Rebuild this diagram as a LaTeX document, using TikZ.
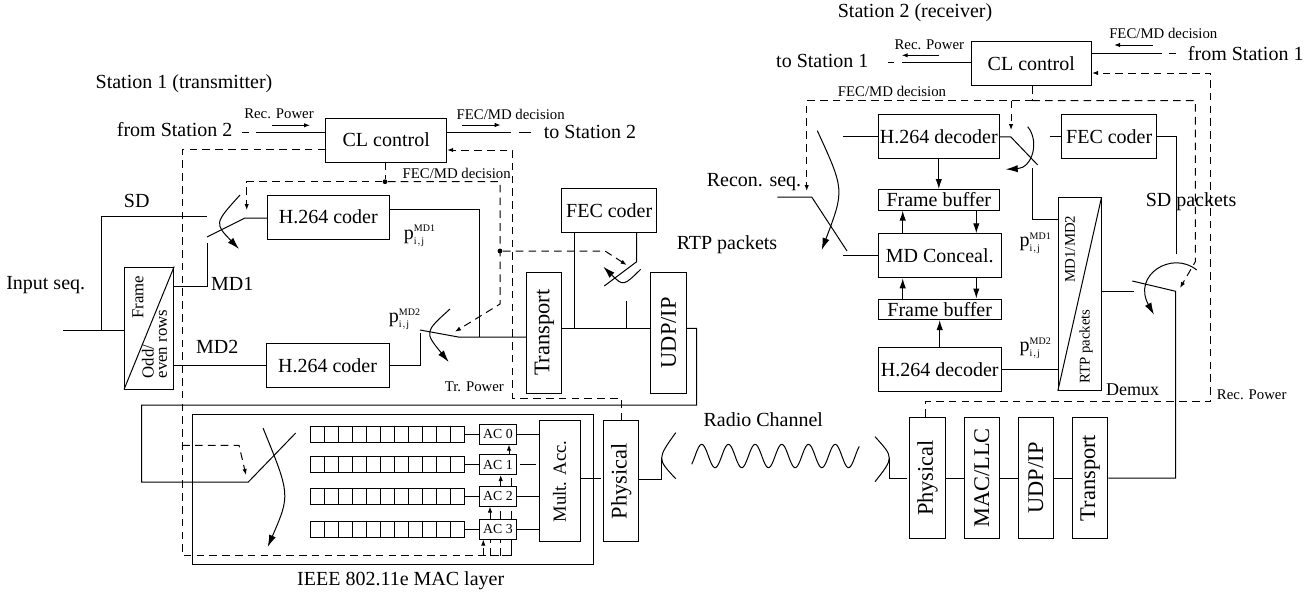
\documentclass[tikz,border=0pt]{standalone}
\usepackage{fontspec}
\setmainfont{Liberation Serif}
\usetikzlibrary{arrows.meta}
\newcommand{\pij}[1]{$\mathrm{p}^{\scriptscriptstyle\mathrm{#1}}_{\scriptscriptstyle\mathrm{i,j}}$}
\begin{document}
\begin{tikzpicture}[x=0.5pt, y=-0.5pt, line width=0.5pt, font=\fontsize{10}{12}\selectfont]
    \tikzstyle{block}=[draw, minimum height=22pt, inner sep=0pt]
    \tikzstyle{buffer}=[draw, minimum height=10.3pt, inner sep=0pt]
    \tikzstyle{layer}=[draw, rotate=90, minimum width=60.5pt, minimum height=17.6pt, inner sep=0pt, font=\fontsize{11.2}{13}\selectfont]
    \tikzstyle{acbox}=[draw, minimum width=18.7pt, minimum height=10pt, inner sep=0pt, font=\fontsize{6.9}{8}\selectfont]
    \tikzstyle{cell}=[draw, minimum width=7pt, minimum height=8pt, inner sep=0pt]
    \tikzstyle{note}=[font=\fontsize{7.4}{9}\selectfont]
    \tikzstyle{sidetxt}=[rotate=90, font=\fontsize{8.4}{10}\selectfont]
    \tikzstyle{dot}=[circle, fill, minimum size=2.4pt, inner sep=0pt]
    \tikzstyle{dsh}=[dash pattern=on 3.8pt off 2.6pt]
    \tikzstyle{sig}=[-{Latex[length=3pt,width=2.2pt]}]
    \tikzstyle{arr}=[-{Latex[length=5pt,width=3.2pt]}]
    \tikzstyle{swing}=[-{Latex[length=6pt,width=3.6pt]}]
    \useasboundingbox (0,0) rectangle (1310,594);

    \node (st1) at (184,84) {Station 1 (transmitter)};
    \node (st2) at (915,12.3) {Station 2 (receiver)};

    \node[block, minimum width=60.5pt] (cl1) at (386.2,140) {CL control};
    \node[block, minimum width=60.7pt] (h1) at (328.3,217) {H.264 coder};
    \node[block, minimum width=61.5pt] (h2) at (327.5,365.5) {H.264 coder};
    \node[block, minimum width=47.5pt] (fc1) at (609.2,210.3) {FEC coder};
    \node[draw, minimum width=24.6pt, minimum height=61pt, inner sep=0pt] (fr) at (149.1,328) {};
    \node[layer] (tr1) at (544.3,332.8) {Transport};
    \node[layer] (ud1) at (668.5,332.8) {UDP/IP};
    \node[layer] (ph1) at (621.3,481.4) {Physical};
    \node[layer, minimum height=20.5pt, font=\fontsize{9.3}{11}\selectfont] (mult) at (559.5,481.4) {Mult. Acc.};
    \node[draw, minimum width=200.2pt, minimum height=75pt, inner sep=0pt] (mac) at (392.8,489) {};

    \node[sidetxt] (frt) at (138,297) {Frame};
    \node[sidetxt, anchor=west] (odd) at (148,385.5) {Odd/};
    \node[sidetxt, anchor=west] (evn) at (163,385.5) {even rows};

    \foreach \i/\y in {0/434,1/464.5,2/496,3/529}{
        \node[acbox] (ac\i) at (498,\y) {AC \i};
        \foreach \k in {1,...,11}
            \node[cell] (q\i-\k) at ({303+14*\k},\y) {};
        \draw (q\i-11) -- (ac\i);
    }

    \node[block, minimum width=60.3pt] (cl2) at (1031.3,63.5) {CL control};
    \node[block, minimum width=60.5pt] (dh1) at (938.8,136.8) {H.264 decoder};
    \node[buffer, minimum width=60.5pt] (fb1) at (938.8,199.8) {Frame buffer};
    \node[block, minimum width=61.4pt] (con) at (939.7,255.8) {MD Conceal.};
    \node[buffer, minimum width=61.4pt] (fb2) at (939.7,309.3) {Frame buffer};
    \node[block, minimum width=61.4pt] (dh2) at (939.7,369.2) {H.264 decoder};
    \node[block, minimum width=47.5pt] (fc2) at (1109.2,136.8) {FEC coder};
    \node[draw, minimum width=21.35pt, minimum height=96.3pt, inner sep=0pt] (dm) at (1079.7,294) {};
    \node[layer] (ph2) at (927.5,478) {Physical};
    \node[layer] (ml2) at (981.7,478) {MAC/LLC};
    \node[layer] (ud2) at (1035.8,478) {UDP/IP};
    \node[layer] (tr2) at (1090.2,478) {Transport};

    \node[rotate=90, note] (mdt) at (1070,249) {MD1/MD2};
    \node[rotate=90, note] (rtt) at (1086,346.7) {RTP packets};

    \node[dot] (d1) at (385,181.7) {};
    \node[dot] (d2) at (500,251) {};

    \coordinate (in1) at (63,330);
    \coordinate (tap) at (101.7,330);
    \coordinate (sd1) at (207,216);
    \coordinate (bl1) at (207,237);
    \coordinate (md1) at (207,243);
    \coordinate (bl2) at (420,330);
    \coordinate (md2) at (420,333);
    \coordinate (bl3) at (604.3,286);
    \coordinate (st3) at (626.7,300.7);
    \coordinate (bl4) at (295.7,433);
    \coordinate (rx1) at (241.7,132.3);
    \coordinate (tx1) at (530.7,132.3);
    \coordinate (rx2) at (887.7,62.3);
    \coordinate (tx2) at (1176,53.3);
    \coordinate (out) at (777.3,197);
    \coordinate (bl5) at (847,251);
    \coordinate (w1) at (843.3,136.8);
    \coordinate (w2) at (843.3,255.8);
    \coordinate (bl6) at (1037.7,165);
    \coordinate (w3) at (1050,136.8);
    \coordinate (w4) at (1032.3,167.7);
    \coordinate (w5) at (1176,254.3);
    \coordinate (bl7) at (1132.3,281);
    \coordinate (w6) at (1134,291.3);
    \coordinate (t2) at (1032.3,100.7);

    \draw (fr.north east) -- (fr.south west);
    \draw (dm.north east) -- (dm.south west);

    \draw (in1) -- (fr.west |- in1);
    \draw (tap) -- (101.7,216) -- (sd1);
    \draw (bl1) -- (245,218) -- (h1.west |- 0,218);
    \draw (fr.east |- 0,286) -- (207,286) -- (md1);
    \draw (fr.east |- h2) -- (h2.west);
    \draw (h1.east |- 0,209.3) -- (479.3,209.3) -- (479.3,337);
    \draw (h2.east) -- (420,365.5) -- (md2);
    \draw (bl2) -- (458.3,337) -- (tr1.north |- 0,337);
    \draw (tr1.south |- 0,328.3) -- (ud1.north |- 0,328.3);
    \draw (st3) -- (626.7,328.3);
    \draw (fc1.south -| 574,0) -- (574,328.3);
    \draw (fc1.south -| 636.7,0) -- (636.7,261.7) -- (bl3);
    \draw (ud1.south |- 0,328.3) -- (696.7,328.3) -- (696.7,405) -- (141.7,405) -- (141.7,482) -- (248.3,482) -- (bl4);

    \draw (ac0) -- (ac0 -| mult.north);
    \draw ([xshift=1.2pt]ac1.east) -- ([xshift=-1.2pt]ac1 -| mult.north);
    \draw (ac2) -- (ac2 -| mult.north);
    \draw (ac3) -- (ac3 -| mult.north);
    \draw (mult.south |- 0,478.3) -- ([xshift=-1pt]ph1.north |- 0,478.3);

    \draw[dash pattern=on 3.8pt off 3.2pt on 100pt] (rx1) -- (cl1.west |- rx1);
    \draw[dash pattern=on 31.65pt off 4.15pt on 6.2pt] (cl1.east |- tx1) -- (tx1);
    \draw[dash pattern=on 3.15pt off 3.85pt on 100pt] (rx2) -- (cl2.west |- rx2);
    \draw[dash pattern=on 35pt off 3.3pt on 3.85pt] (cl2.east |- tx2) -- (tx2);

    \draw[dsh] (cl1.south -| d1) -- (d1);
    \draw[dsh, sig] (d1) -- (246.7,181.7) -- (246.7,210);
    \draw[dsh, sig] (d1) -- (500,181.7) -- (500,304) -- (455,331.7);
    \draw[dsh, sig] (d2) -- (605,251) -- (626.7,265);
    \draw[dsh, sig] (ph1.east -| 621,0) -- (621,398.3) -- (512.7,398.3) -- (512.7,150) -- (cl1.east |- 0,150);
    \draw[dsh] (cl1.west |- 0,149.7) -- (182.3,149.7) -- (182.3,555.7) -- (501.7,555.7);
    \draw (501.7,555.7) -- (511.7,555.7) -- (ac3.south -| 511.7,0);
    \draw[dsh, sig] (182.3,445.3) -- (239,445.3) -- (246,475);

    \draw[dsh, sig] (483.3,555.7) -- (ac3.south -| 483.3,0);
    \draw[dsh] (490,555.7) -- (ac3.south -| 490,0);
    \draw[dsh, sig] (ac3.north -| 490,0) -- (ac2.south -| 490,0);
    \draw[dsh] (500.7,555.7) -- (ac3.south -| 500.7,0);
    \draw[dsh] (ac3.north -| 500.7,0) -- (ac2.south -| 500.7,0);
    \draw[dsh, sig] (ac2.north -| 500.7,0) -- (ac1.south -| 500.7,0);
    \draw[dsh] (ac3.north -| 511,0) -- (ac2.south -| 511,0);
    \draw[dsh] (ac2.north -| 511,0) -- (ac1.south -| 511,0);
    \draw[dsh, sig] (ac1.north -| 509,0) -- (ac0.south -| 509,0);

    \draw[swing] (240,195) .. controls (214.4,223.3) .. (239,249);
    \draw[swing] (450,309) .. controls (424.4,332.1) .. (448.7,362);
    \draw[swing] (640.7,269.3) .. controls (623.3,286.3) .. (603.3,266.7);
    \draw[swing] (263,428) .. controls (290.3,494.8) .. (267.7,547);

    \draw (675.7,432.7) .. controls (657,458.8) .. (675.7,478.7);
    \draw (875,436.7) .. controls (894,457.6) .. (875,481.7);
    \draw (ph1.south |- 0,479) -- (661.7,479) -- (661.7,458);
    \draw ([xshift=-1pt]ph2.north |- 0,478) -- (889.3,478) -- (889.3,458);
    \draw plot[domain=691.7:859.3, samples=120, smooth] (\x,{456-11.7*cos((\x-701.7)*13.483)});

    \draw (ph2.south) -- (ml2.north);
    \draw (ml2.south) -- (ud2.north);
    \draw (ud2.south) -- (tr2.north);
    \draw (tr2.south) -- (1175.7,478) -- (1175.7,291.3) -- (bl7);
    \draw (dm.east |- w6) -- (w6);
    \draw (w5) -- (1176,136.8) -- (fc2.east);
    \draw (fc2.west) -- (w3);
    \draw (dh1.east) -- (1010.7,136.8) -- (bl6);
    \draw (w4) -- (1032.3,219.5) -- (dm.west |- 0,219.5);
    \draw (dh2.east) -- (dh2.east -| dm.west);
    \draw (dh1.west) -- (w1);
    \draw (con.west) -- (w2);
    \draw (out) -- (811.7,197) -- (bl5);

    \draw[arr] (dh1.south) -- (fb1.north);
    \draw[arr] (dh2.north) -- (fb2.south);
    \draw[arr] (fb1.south -| 976.3,0) -- (con.north -| 976.3,0);
    \draw[arr] (con.south -| 976.3,0) -- (fb2.north -| 976.3,0);
    \draw[arr] (con.north -| 902.7,0) -- (fb1.south -| 902.7,0);
    \draw[arr] (fb2.north -| 902.7,0) -- (con.south -| 902.7,0);

    \draw[swing] (817.3,130.7) .. controls (844.5,189.9) .. (821.7,250);
    \draw[swing] (1027.7,126.7) .. controls (1040,142) and (1032,168) .. (1005.7,169.3);
    \draw[swing] (1196.7,270) .. controls (1172,250) and (1132,275) .. (1154,314.7);

    \draw[dsh] (cl2.south -| t2) -- (t2);
    \draw[dsh, sig] (t2) -- (806.7,100.7) -- (806.7,191);
    \draw[dsh, sig] (t2) -- (1195.3,100.7) -- (1195.3,261.7) -- (1180,288);
    \draw[dsh, sig] (1011,100.7) -- (1011,130);
    \draw[dsh, sig] (ph2.east -| 925.7,0) -- (925.7,401.7) -- (1210.7,401.7) -- (1210.7,73) -- (cl2.east |- 0,73);

    \draw[sig] (271.7,125.3) -- (310,125.3);
    \draw[sig] (461.7,125) -- (500.7,125);
    \draw[sig] (939.3,55.3) -- (901.7,55.3);
    \draw[sig] (1152.7,45) -- (1114,45);

    \node (fs2) at (174.7,130) {from Station 2};
    \node (ts2) at (590,132) {to Station 2};
    \node (ts1) at (822.3,60.7) {to Station 1};
    \node (fs1) at (1245.7,53.3) {from Station 1};
    \node[note] (rp1) at (279,114) {Rec. Power};
    \node[note] (fd1) at (510.7,114) {FEC/MD decision};
    \node[note] (fd2) at (456.7,173.3) {FEC/MD decision};
    \node[note] (rp2) at (929.3,44.3) {Rec. Power};
    \node[note] (fd3) at (1163.3,33.3) {FEC/MD decision};
    \node[note] (fd4) at (892,91) {FEC/MD decision};
    \node[note] (rp3) at (1251.7,395) {Rec. Power};
    \node[note] (trp) at (474.3,386.7) {Tr. Power};
    \node (inp) at (45.7,285) {Input seq.};
    \node (sdl) at (136.7,200.7) {SD};
    \node (md1l) at (232.3,284) {MD1};
    \node (md2l) at (217.3,346.7) {MD2};
    \node (p1) at (420,235.8) {\pij{MD1}};
    \node (p2) at (405,319) {\pij{MD2}};
    \node (p3) at (1035.7,243) {\pij{MD1}};
    \node (p4) at (1035.7,348.3) {\pij{MD2}};
    \node (rtp) at (727,244.3) {RTP packets};
    \node (rec) at (754,181.7) {Recon. seq.};
    \node (sdp) at (1191,201.7) {SD packets};
    \node[font=\fontsize{9}{11}\selectfont] (dmx) at (1132.7,389.3) {Demux};
    \node (radio) at (763.3,420) {Radio Channel};
    \node (mll) at (400.7,580.7) {IEEE 802.11e MAC layer};
\end{tikzpicture}
\end{document}
